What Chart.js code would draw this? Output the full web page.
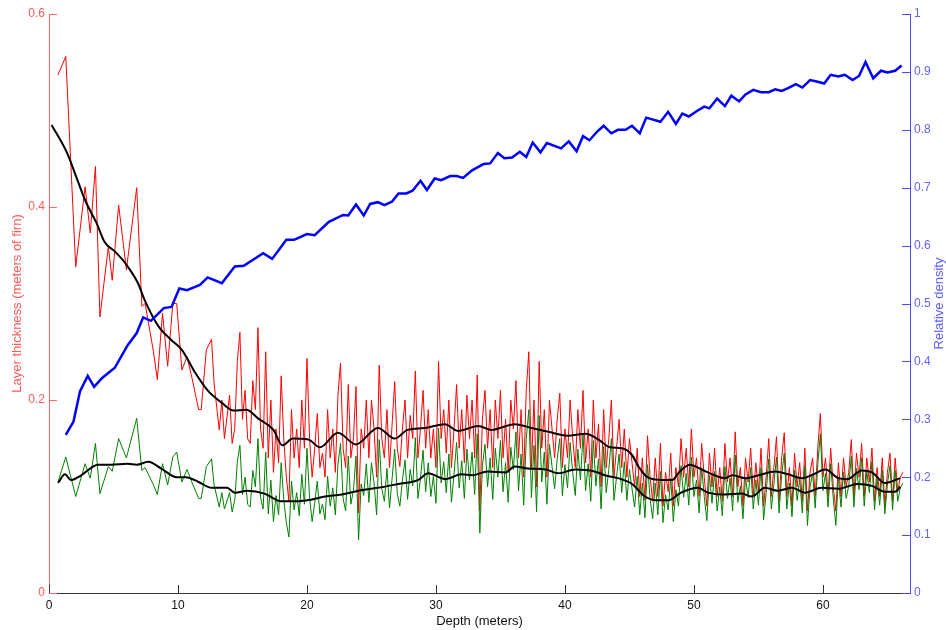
<!DOCTYPE html>
<html>
<head>
<meta charset="utf-8">
<script src="https://cdn.jsdelivr.net/npm/chart.js@4.4.1/dist/chart.umd.min.js"></script>
<style>
html,body{margin:0;padding:0;background:#fff}
</style>
</head>
<body>
<canvas id="firnChart" width="946" height="630"></canvas>
<script>
// ---- layer thickness, upper 14 m (irregular depths, one point per layer) ----
const depthTop = [0.7,1.3,2.07,2.8,3.2,3.6,3.95,4.6,4.9,5.4,6.0,6.8,7.2,7.45,8.1,8.4,8.8,9.2,9.6,9.9,10.3,10.7,11.1,11.6,11.8,12.2,12.6,12.8,13.2,13.4,13.6,14.0,14.2];
const firnTop  = [0.537,0.556,0.338,0.421,0.373,0.442,0.286,0.359,0.324,0.402,0.335,0.42,0.297,0.30,0.25,0.221,0.29,0.235,0.30,0.30,0.231,0.245,0.222,0.19,0.19,0.252,0.263,0.217,0.169,0.20,0.16,0.205,0.155];
const iceTop   = [0.115,0.141,0.10,0.134,0.119,0.155,0.103,0.131,0.126,0.16,0.14,0.181,0.127,0.13,0.112,0.102,0.134,0.112,0.141,0.146,0.115,0.128,0.114,0.098,0.098,0.131,0.139,0.112,0.089,0.104,0.087,0.104,0.084];

// ---- layer thickness below 14.4 m, sampled every 0.2 m ----
const gridStart = 14.4;
const gridStep = 0.2;
const firnGrid = [
  0.17,0.24,0.27,0.18,0.21,0.16,0.155,0.22,0.19,0.275,0.17,0.15,0.25,0.14,0.20,0.125,0.17,0.135,0.225,0.16,0.12,0.095,0.19,0.14,0.17,
  0.13,0.20,0.15,0.243,0.16,0.12,0.15,0.186,0.13,0.145,0.12,0.19,0.14,0.17,0.125,0.205,0.238,0.15,0.13,0.216,0.14,0.16,0.214,0.083,0.17,
  0.15,0.20,0.14,0.20,0.17,0.12,0.236,0.16,0.14,0.19,0.13,0.175,0.219,0.15,0.131,0.17,0.20,0.14,0.184,0.16,0.23,0.14,0.17,0.21,0.15,
  0.19,0.14,0.17,0.13,0.24,0.16,0.19,0.145,0.20,0.13,0.17,0.216,0.15,0.19,0.135,0.205,0.16,0.20,0.14,0.226,0.085,0.18,0.21,0.15,0.19,
  0.13,0.20,0.16,0.21,0.14,0.18,0.125,0.20,0.17,0.22,0.14,0.19,0.12,0.21,0.25,0.13,0.20,0.11,0.24,0.15,0.19,0.12,0.20,0.17,0.14,
  0.18,0.207,0.13,0.17,0.14,0.20,0.16,0.13,0.19,0.15,0.21,0.135,0.17,0.12,0.20,0.14,0.175,0.11,0.19,0.13,0.16,0.20,0.12,0.15,0.18,
  0.13,0.17,0.12,0.16,0.135,0.11,0.15,0.10,0.14,0.096,0.163,0.12,0.095,0.14,0.10,0.155,0.09,0.125,0.105,0.145,0.09,0.13,0.11,0.16,0.12,
  0.15,0.11,0.17,0.12,0.14,0.10,0.155,0.12,0.09,0.145,0.11,0.15,0.10,0.13,0.095,0.155,0.115,0.14,0.10,0.167,0.11,0.13,0.09,0.14,0.115,
  0.15,0.10,0.135,0.105,0.15,0.09,0.12,0.16,0.10,0.13,0.162,0.095,0.14,0.166,0.10,0.13,0.09,0.145,0.11,0.135,0.095,0.15,0.085,0.125,0.14,
  0.10,0.15,0.186,0.12,0.14,0.10,0.15,0.11,0.085,0.135,0.10,0.14,0.11,0.125,0.159,0.10,0.145,0.12,0.155,0.10,0.14,0.115,0.15,0.095,0.13,0.10,0.14,0.09,0.125,0.145,0.095,0.14,0.105,0.12,0.125
];
const iceGrid = [
  0.096,0.136,0.153,0.102,0.12,0.092,0.089,0.127,0.11,0.16,0.099,0.087,0.146,0.082,0.117,0.074,0.101,0.081,0.135,0.097,0.073,0.058,0.116,0.086,0.104,
  0.08,0.123,0.092,0.15,0.099,0.074,0.093,0.116,0.082,0.092,0.076,0.121,0.09,0.109,0.081,0.133,0.155,0.098,0.085,0.142,0.092,0.106,0.142,0.055,0.113,
  0.101,0.134,0.094,0.135,0.114,0.081,0.159,0.108,0.095,0.129,0.088,0.119,0.149,0.103,0.09,0.117,0.138,0.097,0.128,0.111,0.161,0.098,0.119,0.148,0.105,
  0.135,0.10,0.121,0.093,0.171,0.114,0.136,0.104,0.144,0.094,0.123,0.156,0.109,0.137,0.098,0.149,0.117,0.146,0.102,0.165,0.062,0.132,0.154,0.11,0.14,
  0.097,0.15,0.12,0.158,0.105,0.135,0.094,0.151,0.128,0.167,0.106,0.144,0.091,0.16,0.19,0.099,0.153,0.084,0.184,0.115,0.146,0.092,0.154,0.131,0.108,
  0.139,0.16,0.101,0.133,0.109,0.156,0.125,0.101,0.149,0.117,0.165,0.106,0.134,0.095,0.158,0.111,0.139,0.087,0.152,0.104,0.128,0.16,0.096,0.12,0.144,
  0.104,0.136,0.096,0.128,0.108,0.089,0.121,0.081,0.114,0.078,0.133,0.098,0.077,0.114,0.081,0.126,0.073,0.102,0.086,0.119,0.074,0.107,0.09,0.132,0.099,
  0.124,0.091,0.141,0.10,0.117,0.083,0.13,0.10,0.075,0.122,0.093,0.126,0.085,0.11,0.08,0.131,0.098,0.119,0.085,0.143,0.094,0.111,0.077,0.12,0.099,
  0.13,0.087,0.117,0.091,0.13,0.076,0.104,0.139,0.087,0.113,0.141,0.083,0.122,0.145,0.087,0.114,0.079,0.127,0.096,0.118,0.083,0.132,0.07,0.11,0.124,
  0.088,0.133,0.165,0.106,0.124,0.089,0.134,0.098,0.07,0.12,0.089,0.125,0.098,0.111,0.142,0.089,0.129,0.107,0.14,0.09,0.126,0.104,0.136,0.086,0.118,0.091,0.127,0.082,0.113,0.132,0.086,0.127,0.095,0.109,0.114
];

// ---- smoothed thickness (running mean) ----
const smoothFirnDepth = [0.2,1.4,2.2,2.8,3.7,4.3,5.1,5.9,6.9,7.4,8.5,9.5,10.3,11.3,12.3,13.4,14.3,15.3,16.2,17.4,18.1,18.9,20.1,21.0,22.4,23.8,25.5,26.8,27.8,29.1,30.7,31.7,33.3,34.3,36.1,37.4,38.7,40.2,41.6,42.6,43.5,44.4,45.2,45.7,46.4,47.5,48.3,48.9,49.7,50.6,51.6,52.4,53.0,54.0,55.0,56.3,57.3,58.4,59.1,60.2,61.2,61.9,63.0,63.8,64.8,66.0];
const smoothFirn = [0.485,0.456,0.428,0.407,0.383,0.364,0.354,0.342,0.321,0.304,0.276,0.262,0.252,0.229,0.21,0.197,0.189,0.19,0.181,0.169,0.153,0.16,0.159,0.151,0.166,0.154,0.171,0.16,0.169,0.171,0.175,0.168,0.173,0.169,0.175,0.171,0.167,0.163,0.165,0.159,0.151,0.15,0.143,0.131,0.12,0.117,0.117,0.126,0.133,0.128,0.122,0.119,0.122,0.119,0.122,0.126,0.123,0.119,0.122,0.128,0.119,0.118,0.127,0.125,0.114,0.119];
const smoothIceDepth = [0.7,1.24,1.7,2.5,3.8,4.8,6.1,6.8,7.7,8.7,9.9,10.6,11.6,12.6,13.8,14.4,15.4,16.7,18.0,19.3,20.4,21.4,22.7,24.0,25.5,27.1,28.6,29.4,30.7,32.0,32.8,34.0,35.4,36.1,37.1,38.5,39.5,40.8,42.3,43.1,44.1,45.2,46.2,47.2,48.0,49.0,50.3,51.1,52.4,53.7,54.5,55.5,56.5,57.6,58.6,59.9,61.2,62.7,63.8,64.8,65.6,66.0];
const smoothIce = [0.114,0.123,0.117,0.122,0.133,0.133,0.134,0.133,0.136,0.129,0.12,0.12,0.115,0.109,0.109,0.104,0.106,0.103,0.095,0.095,0.097,0.1,0.102,0.106,0.109,0.113,0.117,0.124,0.118,0.123,0.122,0.126,0.125,0.131,0.129,0.128,0.124,0.128,0.126,0.122,0.119,0.113,0.1,0.096,0.096,0.104,0.109,0.104,0.102,0.103,0.1,0.109,0.106,0.109,0.104,0.109,0.108,0.113,0.111,0.105,0.105,0.11];

// ---- relative density ----
const densityDepth = [1.3,1.9,2.4,3.0,3.5,4.1,5.1,6.1,6.8,7.3,7.9,8.9,9.5,10.1,10.7,11.7,12.3,13.4,14.4,15.1,16.6,17.3,18.4,19.0,20.0,20.6,21.7,22.8,23.2,23.8,24.4,24.9,25.5,26.0,26.6,27.1,27.7,28.2,28.8,29.3,29.9,30.4,31.1,31.6,32.1,32.8,33.7,34.2,34.8,35.3,35.9,36.5,37.0,37.5,38.1,38.6,39.7,40.3,40.9,41.4,41.9,42.5,43.0,43.6,44.1,44.7,45.2,45.8,46.3,47.4,48.0,48.6,49.1,49.6,50.2,50.8,51.2,51.8,52.4,52.9,53.5,54.0,54.6,55.2,55.8,56.3,56.8,57.3,57.9,58.4,59.0,59.6,60.1,60.6,61.2,61.7,62.3,62.8,63.3,63.9,64.5,65.0,65.6,66.1];
const density = [0.273,0.296,0.348,0.375,0.356,0.371,0.389,0.428,0.449,0.476,0.47,0.492,0.494,0.526,0.523,0.532,0.545,0.535,0.564,0.565,0.587,0.577,0.61,0.61,0.62,0.618,0.641,0.653,0.652,0.671,0.652,0.672,0.675,0.67,0.676,0.69,0.69,0.695,0.712,0.696,0.716,0.713,0.72,0.72,0.717,0.73,0.741,0.742,0.76,0.751,0.752,0.762,0.753,0.778,0.761,0.777,0.768,0.78,0.763,0.789,0.782,0.797,0.807,0.794,0.8,0.8,0.807,0.794,0.821,0.814,0.831,0.81,0.828,0.823,0.832,0.84,0.837,0.854,0.841,0.859,0.849,0.861,0.869,0.865,0.865,0.87,0.867,0.872,0.879,0.873,0.886,0.883,0.88,0.895,0.892,0.895,0.886,0.893,0.917,0.889,0.902,0.899,0.902,0.911];

// ---- axes ----
const depthTicks = [0,10,20,30,40,50,60];
const thickTicks = [0,0.2,0.4,0.6];
const densTicks = [0,0.1,0.2,0.3,0.4,0.5,0.6,0.7,0.8,0.9,1];

const FONT = '"Liberation Sans", Arial, sans-serif';
const RED_AXIS = '#ff6a6a';
const BLUE_AXIS = '#4a4aff';

function pairUp(xs, ys){
  return ys.map((y,i)=>({x:xs[i], y:y}));
}

const gridDepth = firnGrid.map((_,i)=> +(gridStart + i*gridStep).toFixed(2));
const thickDepth = depthTop.concat(gridDepth);

// tick marks point into the plot, like the original figure
const inwardTicks = {
  id:'inwardTicks',
  afterDraw(chart){
    const ctx = chart.ctx;
    const a = chart.chartArea;
    const s = chart.scales;
    ctx.save();
    ctx.lineWidth = 1;
    ctx.strokeStyle = '#333';
    s.x.ticks.forEach(t=>{
      const px = Math.round(s.x.getPixelForValue(t.value)) + 0.5;
      ctx.beginPath(); ctx.moveTo(px, a.bottom); ctx.lineTo(px, a.bottom - 8); ctx.stroke();
    });
    ctx.strokeStyle = RED_AXIS;
    s.y.ticks.forEach(t=>{
      const py = Math.round(s.y.getPixelForValue(t.value)) + 0.5;
      ctx.beginPath(); ctx.moveTo(a.left, py); ctx.lineTo(a.left + 8, py); ctx.stroke();
    });
    ctx.strokeStyle = BLUE_AXIS;
    s.y1.ticks.forEach(t=>{
      const py = Math.round(s.y1.getPixelForValue(t.value)) + 0.5;
      ctx.beginPath(); ctx.moveTo(a.right, py); ctx.lineTo(a.right - 8, py); ctx.stroke();
    });
    // right-hand axis title reads bottom to top
    ctx.fillStyle = '#5c5cff';
    ctx.font = '13px ' + FONT;
    ctx.textAlign = 'center';
    ctx.textBaseline = 'middle';
    ctx.translate(939, (a.top + a.bottom) / 2);
    ctx.rotate(-Math.PI / 2);
    ctx.fillText('Relative density', 0, 0);
    ctx.restore();
  }
};

new Chart(document.getElementById('firnChart').getContext('2d'), {
  type:'line',
  data:{
    datasets:[
      {
        label:'density',
        data:pairUp(densityDepth, density),
        yAxisID:'y1',
        borderColor:'#0000ff',
        borderWidth:2.5,
        pointRadius:0,
        tension:0,
        order:0
      },
      {
        label:'firn mean',
        data:pairUp(smoothFirnDepth, smoothFirn),
        yAxisID:'y',
        borderColor:'#000',
        borderWidth:2,
        pointRadius:0,
        cubicInterpolationMode:'monotone',
        order:1
      },
      {
        label:'ice mean',
        data:pairUp(smoothIceDepth, smoothIce),
        yAxisID:'y',
        borderColor:'#000',
        borderWidth:2,
        pointRadius:0,
        cubicInterpolationMode:'monotone',
        order:1
      },
      {
        label:'ice equivalent',
        data:pairUp(thickDepth, iceTop.concat(iceGrid)),
        yAxisID:'y',
        borderColor:'#008000',
        borderWidth:1,
        pointRadius:0,
        tension:0,
        order:2
      },
      {
        label:'firn',
        data:pairUp(thickDepth, firnTop.concat(firnGrid)),
        yAxisID:'y',
        borderColor:'#ff0000',
        borderWidth:1,
        pointRadius:0,
        tension:0,
        order:3
      }
    ]
  },
  options:{
    responsive:false,
    devicePixelRatio:1,
    animation:false,
    layout:{padding:{top:14, left:0, right:0, bottom:0}},
    plugins:{
      legend:{display:false},
      tooltip:{enabled:false}
    },
    scales:{
      x:{
        type:'linear',
        min:0,
        max:66.75,
        afterBuildTicks:s=>{ s.ticks = depthTicks.map(v=>({value:v})); },
        afterFit:s=>{ s.height = 37; },
        grid:{display:false, drawTicks:false},
        border:{display:true, color:'#333', width:1},
        ticks:{color:'#111', padding:5, font:{family:FONT, size:12}, maxRotation:0},
        title:{display:true, text:'Depth (meters)', color:'#111', font:{family:FONT, size:13}, padding:{top:0, bottom:1}}
      },
      y:{
        position:'left',
        min:0,
        max:0.6,
        afterBuildTicks:s=>{ s.ticks = thickTicks.map(v=>({value:v})); },
        afterFit:s=>{ s.width = 49; },
        grid:{display:false, drawTicks:false},
        border:{display:true, color:RED_AXIS, width:1},
        ticks:{color:'#ff5a5a', padding:4, font:{family:FONT, size:12}, callback:v=>String(+v.toFixed(1))},
        title:{display:true, text:'Layer thickness (meters of firn)', color:'#ff5a5a', font:{family:FONT, size:13}, padding:{top:10, bottom:0}}
      },
      y1:{
        position:'right',
        min:0,
        max:1,
        afterBuildTicks:s=>{ s.ticks = densTicks.map(v=>({value:v})); },
        afterFit:s=>{ s.width = 36; },
        grid:{display:false, drawTicks:false, drawOnChartArea:false},
        border:{display:true, color:BLUE_AXIS, width:1},
        ticks:{color:'#6262ff', padding:4, font:{family:FONT, size:12}, callback:v=>String(+v.toFixed(1))}
      }
    }
  },
  plugins:[inwardTicks]
});
</script>
</body>
</html>
